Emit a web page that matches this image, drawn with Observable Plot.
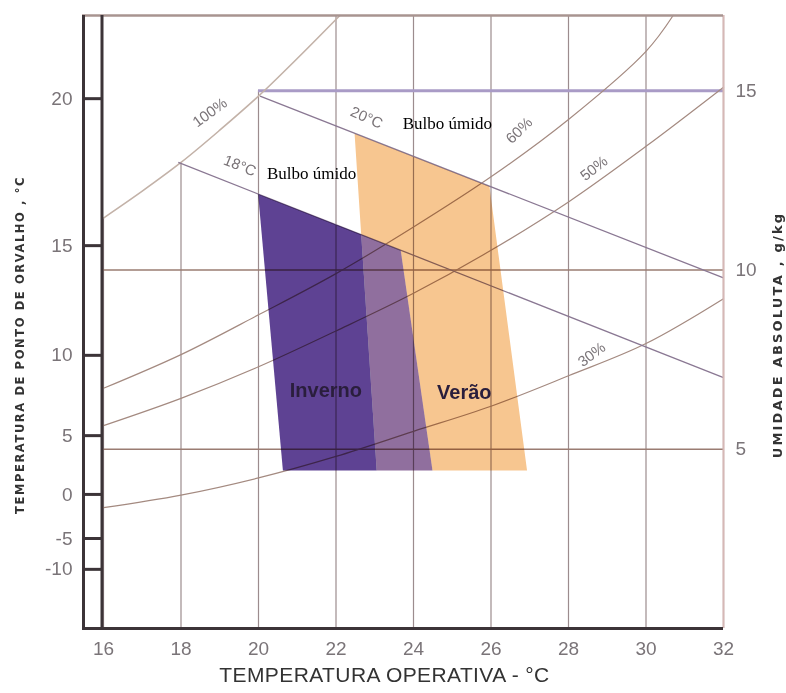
<!DOCTYPE html>
<html><head><meta charset="utf-8">
<script src="https://cdn.jsdelivr.net/npm/d3@7"></script>
<script src="https://cdn.jsdelivr.net/npm/@observablehq/plot@0.6"></script>
<style>
body{margin:0;background:#fff;}
#chart svg{display:block}
</style></head><body><div id="chart"></div>
<script>
// ---- data ----
const xTicks = [16, 18, 20, 22, 24, 26, 28, 30, 32];          // temperatura operativa, °C
const gridTop = [11.45, 13.0, 15.0, 17.1, 17.1, 17.1, 17.1, 17.1, 17.1]; // top of each vertical grid line (g/kg)
const absTicks = [5, 10, 15];                                  // umidade absoluta, g/kg
const dewLabels = ["20", "15", "10", "5", "0", "-5", "-10"];   // ponto de orvalho, °C
const dewW = [14.78, 10.68, 7.62, 5.38, 3.74, 2.51, 1.65];     // their position on the g/kg scale

const rhT = [16, 18, 20, 22, 24, 26, 28, 30, 32];
const sat100T = [16, 17, 18, 19, 20, 21, 22.1];
const sat100W = [11.45, 12.2, 13.0, 13.9, 14.85, 15.9, 17.1];
const rh60T = [16, 18, 20, 22, 24, 26, 28, 30, 30.7];
const rh60W = [6.7, 7.64, 8.75, 9.9, 11.2, 12.6, 14.2, 16.1, 17.1];
const rh50W = [5.66, 6.42, 7.3, 8.3, 9.35, 10.55, 11.9, 13.45, 15.1];
const rh30W = [3.37, 3.72, 4.2, 4.8, 5.5, 6.2, 7.05, 7.95, 9.2];

const wbLabels = ["18°C", "20°C"];
const wbStartT = [17.93, 20.04];
const wbStartW = [13.0, 14.85];
const wbEndT = [32, 32];
const wbEndW = [7.0, 9.78];

const invernoOnly = [[19.99, 12.12], [22.65, 10.99], [23.05, 4.41], [20.63, 4.41]];
const overlapZone = [[22.65, 10.99], [23.67, 10.55], [24.49, 4.41], [23.05, 4.41]];
const veraoOnly = [[22.48, 13.8], [25.96, 12.33], [26.93, 4.41], [24.49, 4.41], [23.67, 10.55], [22.65, 10.99]];

const hLines = [5, 10, 15];
const hLineFrom = [16, 16, 20];

// labels (text, position in data units, rotation)
const rhLabels = ["100%", "60%", "50%", "30%"];
const rhLabT = [18.75, 26.73, 28.66, 28.6];
const rhLabW = [14.39, 13.89, 12.83, 7.64];
const rhLabRot = [-36, -44, -38, -37];
const wbLabT = [19.52, 22.79];
const wbLabW = [12.91, 14.25];
const wbLabRot = [22, 24];
const bulboT = [20.22, 23.72];
const bulboW = [12.69, 14.09];
const zoneNames = ["Inverno", "Verão"];
const zoneT = [21.74, 25.31];
const zoneW = [6.64, 6.58];

// ---- build tables ----
const vGrid = xTicks.map((x, i) => ({x, top: gridTop[i]}));
const hGrid = hLines.map((w, i) => ({w, from: hLineFrom[i]}));
const sat = sat100T.map((t, i) => ({T: t, W: sat100W[i]}));
const curves = [
  ...rh60T.map((t, i) => ({T: t, W: rh60W[i], c: "60"})),
  ...rhT.map((t, i) => ({T: t, W: rh50W[i], c: "50"})),
  ...rhT.map((t, i) => ({T: t, W: rh30W[i], c: "30"}))
];
const wb = wbLabels.map((l, i) => ({l, x1: wbStartT[i], y1: wbStartW[i], x2: wbEndT[i], y2: wbEndW[i]}));
const rhLab = rhLabels.map((t, i) => ({t, x: rhLabT[i], y: rhLabW[i], r: rhLabRot[i]}));
const wbLab = wbLabels.map((t, i) => ({t, x: wbLabT[i], y: wbLabW[i], r: wbLabRot[i]}));
const bulbo = bulboT.map((x, i) => ({x, y: bulboW[i]}));
const zones = zoneNames.map((t, i) => ({t, x: zoneT[i], y: zoneW[i]}));
const poly = () => ({x: d => d[0], y: d => d[1]});

const gray = "#7a7478";
const chart = Plot.plot({
  width: 786, height: 693,
  marginLeft: 103, marginRight: 63, marginTop: 15, marginBottom: 65,
  x: {domain: [16, 32], axis: null},
  y: {domain: [0, 17.1], axis: null},
  style: {fontFamily: "Liberation Sans, Arial, sans-serif", background: "#fff", overflow: "visible"},
  marks: [
    // grid
    Plot.ruleX(vGrid, {x: "x", y1: 0, y2: "top", stroke: "#9c8c8e", strokeWidth: 1.2}),
    Plot.ruleY(hGrid.filter(d => d.w !== 15), {y: "w", x1: "from", x2: 32, stroke: "#9a7c72", strokeWidth: 1.3}),
    Plot.ruleY(hGrid.filter(d => d.w === 15), {y: "w", x1: "from", x2: 32, stroke: "#a99bc6", strokeWidth: 3}),
    // humidity curves
    Plot.line(sat, {x: "T", y: "W", stroke: "#c3b2a8", strokeWidth: 1.6, curve: "catmull-rom"}),
    Plot.line(curves, {x: "T", y: "W", z: "c", stroke: "#a48a80", strokeWidth: 1.2, curve: "catmull-rom"}),
    // wet bulb lines
    Plot.link(wb, {x1: "x1", y1: "y1", x2: "x2", y2: "y2", stroke: "#8a7893", strokeWidth: 1.3}),
    // comfort zones
    Plot.line(invernoOnly, {...poly(), fill: "#5e4293", stroke: "none", mixBlendMode: "multiply"}),
    Plot.line(overlapZone, {...poly(), fill: "#906f9e", stroke: "none", mixBlendMode: "multiply"}),
    Plot.line(veraoOnly, {...poly(), fill: "#f7c690", stroke: "none", mixBlendMode: "multiply"}),
    // frame
    Plot.ruleX([32], {stroke: "#d6b8b6", strokeWidth: 2}),
    Plot.ruleY([17.1], {x1: 16, x2: 32, insetLeft: -21, stroke: "#a89490", strokeWidth: 2.5}),
    Plot.ruleX([16], {dx: -20, stroke: "#3c3438", strokeWidth: 3}),
    Plot.ruleX([16], {dx: -1.5, stroke: "#3c3438", strokeWidth: 3}),
    Plot.ruleY([0], {x1: 16, x2: 32, insetLeft: -21, stroke: "#3c3438", strokeWidth: 3}),
    Plot.ruleY(dewW, {x1: 16, x2: 16, insetLeft: -20, insetRight: 1, stroke: "#3c3438", strokeWidth: 3}),
    // axis labels
    Plot.text(dewW, {y: d => d, text: (d, i) => dewLabels[i], frameAnchor: "left", dx: -31, textAnchor: "end", fontSize: 19, fill: gray}),
    Plot.text(absTicks, {y: d => d, text: d => String(d), frameAnchor: "right", dx: 12, textAnchor: "start", fontSize: 19, fill: gray}),
    Plot.text(xTicks, {x: d => d, text: d => String(d), frameAnchor: "bottom", dy: 20, lineAnchor: "middle", fontSize: 19, fill: gray}),
    Plot.text(["TEMPERATURA OPERATIVA - °C"], {text: d => d, frameAnchor: "bottom", dx: -29, dy: 47, lineAnchor: "middle", textAnchor: "middle", fontSize: 21, fill: "#333"}),
    Plot.text(["TEMPERATURA DE PONTO DE ORVALHO , °C"], {text: d => d, frameAnchor: "left", dx: -83, dy: 23, rotate: -90, lineAnchor: "middle", textAnchor: "middle", fontFamily: "DejaVu Sans", fontWeight: "bold", fontSize: 11.5, fill: "#333"}),
    Plot.text(["UMIDADE ABSOLUTA , g/kg"], {text: d => d, frameAnchor: "right", dx: 54, dy: 13, rotate: -90, lineAnchor: "middle", textAnchor: "middle", fontFamily: "DejaVu Sans", fontWeight: "bold", fontSize: 13, fill: "#333"}),
    // curve labels
    Plot.text(rhLab, {x: "x", y: "y", text: "t", rotate: "r", fontSize: 15, fill: gray}),
    Plot.text(wbLab, {x: "x", y: "y", text: "t", rotate: "r", fontSize: 15, fill: gray}),
    Plot.text(bulbo, {x: "x", y: "y", text: () => "Bulbo úmido", textAnchor: "start", fontFamily: "Liberation Serif, Times New Roman, serif", fontSize: 17, fill: "#000"}),
    Plot.text(zones, {x: "x", y: "y", text: "t", fontSize: 20, fontWeight: "bold", fill: "#2a1e3c"})
  ]
});
document.getElementById("chart").append(chart);
d3.select(chart).selectAll("text").filter(function(){ return /ORVALHO/.test(this.textContent); }).style("letter-spacing", "1.6px");
d3.select(chart).selectAll("text").filter(function(){ return /ABSOLUTA/.test(this.textContent); }).style("letter-spacing", "2.2px");
d3.select(chart).selectAll("text").filter(function(){ return /OPERATIVA/.test(this.textContent); }).style("letter-spacing", "0.4px");
</script>
</body></html>
